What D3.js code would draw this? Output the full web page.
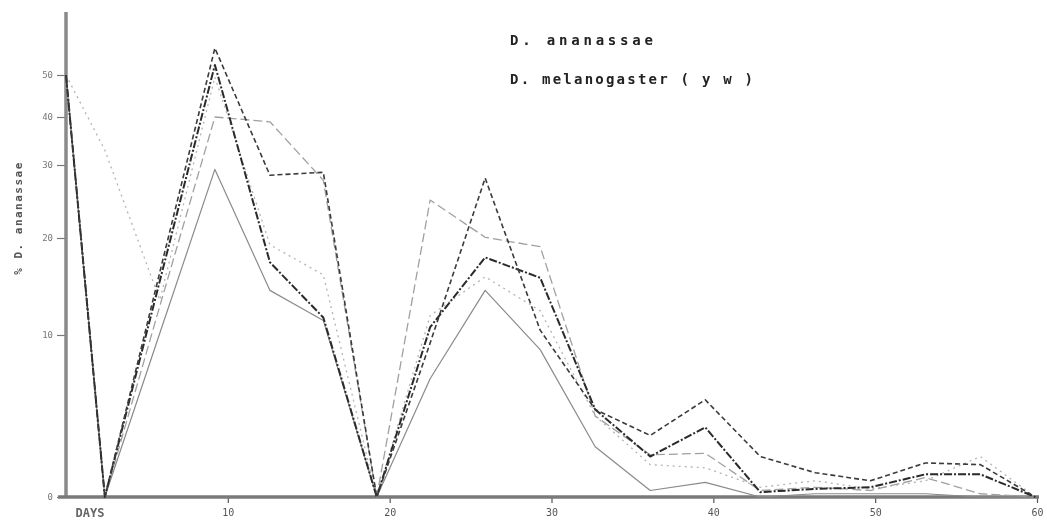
<!DOCTYPE html>
<html>
<head>
<meta charset="utf-8">
<script src="https://cdn.jsdelivr.net/npm/d3@7"></script>
<style>
  body { margin: 0; background: #fff; }
  svg { display: block; }
  text { font-family: "DejaVu Sans Mono", monospace; }
</style>
</head>
<body>
<svg id="chart" width="1047" height="525"></svg>
<script>
// sampling days (x) and % D. ananassae for each culture line
const days = [0, 2.4, 5.8, 9.2, 12.6, 15.9, 19.2, 22.5, 25.9, 29.3, 32.7, 36.1, 39.5, 42.9, 46.3, 49.7, 53.1, 56.5, 59.9];

const dashLine  = [50, 0, 16.5, 56.4, 28.6, 29.0, 0, 9.5, 28.2, 10.5, 5.4, 3.8, 6.0, 2.5, 1.5, 1.0, 2.1, 2.0, 0];
const heavyLine = [50, 0, 15.6, 52.4, 17.5, 11.8, 0, 10.8, 18.0, 15.9, 5.4, 2.5, 4.3, 0.3, 0.5, 0.6, 1.4, 1.4, 0];
const thinLine  = [50, 0, 10.2, 29.4, 14.6, 11.5, 0, 7.3, 14.6, 9.1, 3.1, 0.4, 0.9, 0, 0.2, 0.2, 0.2, 0, 0];
const lightLine = [50, 0, 13.0, 40.0, 39.0, 27.9, 0, 25.2, 20.1, 19.1, 5.0, 2.6, 2.7, 0.4, 0.6, 0.4, 1.2, 0.2, 0];
const paleLine  = [50, 33.1, 13.6, 49.5, 19.3, 16.2, 0, 12.0, 16.0, 12.5, 5.0, 2.0, 1.8, 0.6, 1.0, 0.5, 1.0, 2.5, 0];

const yTicks = [0, 10, 20, 30, 40, 50];
const xTicks = [10, 20, 30, 40, 50, 60];
const legendLabels = ["D. ananassae", "D. melanogaster ( y w )"];

const series = [
  { values: paleLine,  stroke: "#b4b4b4", width: 1.3, dash: "2,4" },
  { values: lightLine, stroke: "#a0a0a0", width: 1.3, dash: "9,4" },
  { values: thinLine,  stroke: "#8a8a8a", width: 1.2, dash: null },
  { values: heavyLine, stroke: "#2a2a2a", width: 2.0, dash: "8,2,2,2" },
  { values: dashLine,  stroke: "#3a3a3a", width: 1.6, dash: "5,3" }
];

const svg = d3.select("#chart");

svg.append("defs").append("filter")
  .attr("id", "soft")
  .append("feGaussianBlur")
  .attr("stdDeviation", 0.45);

const x = d3.scaleLinear()
  .domain([0, 60])
  .range([66, 1037]);

// the scanned ordinate is not evenly spaced, so keep its tick positions
const y = d3.scaleLinear()
  .domain([0, 10, 20, 30, 40, 50, 60])
  .range([497, 335, 238, 165, 117, 75, 33]);

const g = svg.append("g").attr("filter", "url(#soft)");

// y axis
const yAxis = g.append("g")
  .attr("transform", `translate(${x(0)},0)`)
  .call(d3.axisLeft(y).tickValues(yTicks).tickSize(9).tickPadding(4));
yAxis.select(".domain").remove();
yAxis.selectAll(".tick line").attr("stroke", "#777").attr("stroke-width", 1.2);
yAxis.selectAll(".tick text")
  .attr("fill", "#777")
  .attr("font-size", 9)
  .style("font-family", "DejaVu Sans Mono, monospace");

g.append("line")
  .attr("x1", x(0)).attr("x2", x(0))
  .attr("y1", y(0)).attr("y2", y(65))
  .attr("stroke", "#8a8a8a")
  .attr("stroke-width", 3.5);

// x axis
const xAxis = g.append("g")
  .attr("transform", `translate(0,${y(0)})`)
  .call(d3.axisBottom(x).tickValues(xTicks).tickSize(6).tickPadding(6));
xAxis.select(".domain").remove();
xAxis.selectAll(".tick line").attr("stroke", "#555").attr("stroke-width", 1.2);
xAxis.selectAll(".tick text")
  .attr("fill", "#555")
  .attr("font-size", 10)
  .style("font-family", "DejaVu Sans Mono, monospace");

g.append("line")
  .attr("x1", x(0) - 8).attr("x2", x(60) + 2)
  .attr("y1", y(0)).attr("y2", y(0))
  .attr("stroke", "#7a7a7a")
  .attr("stroke-width", 3.5);

g.append("text")
  .attr("x", x(0) + 24)
  .attr("y", y(0) + 20)
  .attr("text-anchor", "middle")
  .attr("font-size", 12)
  .attr("font-weight", "bold")
  .attr("fill", "#666")
  .text("DAYS");

// y axis title
g.append("text")
  .attr("transform", `translate(22,${y(20) - 20}) rotate(-90)`)
  .attr("text-anchor", "middle")
  .attr("font-size", 11)
  .attr("font-weight", "bold")
  .attr("letter-spacing", 1.5)
  .attr("fill", "#555")
  .text("% D. ananassae");

// lines
const line = d3.line()
  .x((d, i) => x(days[i]))
  .y(d => y(d));

series.forEach(s => {
  g.append("path")
    .datum(s.values)
    .attr("fill", "none")
    .attr("stroke", s.stroke)
    .attr("stroke-width", s.width)
    .attr("stroke-dasharray", s.dash)
    .attr("stroke-linejoin", "round")
    .attr("d", line);
});

// legend text
g.selectAll(".legend")
  .data(legendLabels)
  .enter()
  .append("text")
  .attr("class", "legend")
  .attr("x", 510)
  .attr("y", (d, i) => 45 + i * 39)
  .attr("font-size", 14)
  .attr("font-weight", "bold")
  .attr("fill", "#222")
  .attr("textLength", (d, i) => i === 0 ? 143 : 243)
  .attr("lengthAdjust", "spacing")
  .text(d => d);
</script>
</body>
</html>
